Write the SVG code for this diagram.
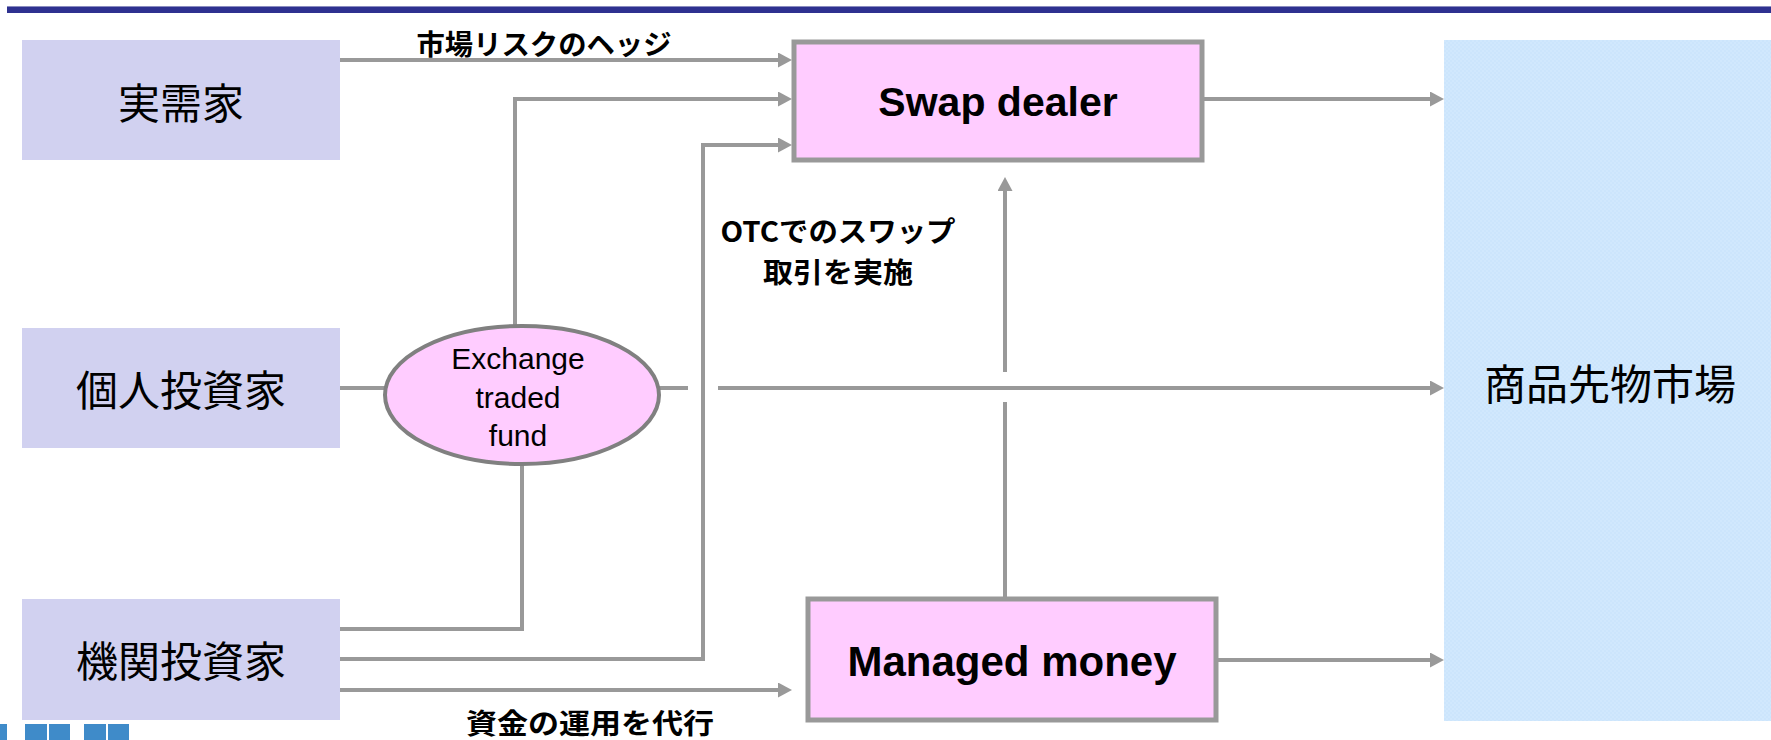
<svg xmlns="http://www.w3.org/2000/svg" width="1771" height="740" viewBox="0 0 1771 740">
<style>
.src{fill:#D1D1F0}
.pink{fill:#FFCCFF}
.conn{fill:none;stroke:#999999;stroke-width:4}
.jp{font-family:"Noto Sans CJK JP","Noto Sans CJK SC",sans-serif;fill:#000}
.lbl{font-family:"Noto Sans CJK JP","Noto Sans CJK SC",sans-serif;font-weight:bold;font-size:28px;fill:#000}
.en{font-family:"Liberation Sans",Arial,sans-serif;fill:#000}
</style>
<defs>
<marker id="arr" viewBox="0 0 14 15" refX="0" refY="7.5" markerWidth="14" markerHeight="15" markerUnits="userSpaceOnUse" orient="auto">
<path d="M0,0 L14,7.5 L0,15 Z" fill="#999999"/>
</marker>
<pattern id="mk" width="4" height="4" patternUnits="userSpaceOnUse">
<rect width="4" height="4" fill="#CCE5FC"/>
<rect width="2" height="2" fill="#D1E8FD"/>
<rect x="2" y="2" width="2" height="2" fill="#D1E8FD"/>
</pattern>
</defs>
<rect width="1771" height="740" fill="#FFFFFF"/>
<rect x="7" y="6" width="1764" height="7" fill="#2E3190"/>
<rect x="7" y="6" width="1764" height="1" fill="#8A8CC0"/>
<g id="deco">
<rect x="0" y="724" width="7" height="16" fill="#3F8BC9"/>
<rect x="25" y="724" width="22" height="16" fill="#3F8BC9"/>
<rect x="49" y="724" width="21" height="16" fill="#3F8BC9"/>
<rect x="84" y="724" width="22" height="16" fill="#3F8BC9"/>
<rect x="108" y="724" width="21" height="16" fill="#3F8BC9"/>
</g>
<g id="market">
<rect x="1444" y="40" width="327" height="681" fill="url(#mk)"/>
<text class="jp" x="1610" y="400" font-size="42" text-anchor="middle">商品先物市場</text>
</g>
<g id="connectors">
<path class="conn" d="M340,60 H778" marker-end="url(#arr)"/>
<path class="conn" d="M515,326 V99 H778" marker-end="url(#arr)"/>
<path class="conn" d="M340,659 H703 V145 H778" marker-end="url(#arr)"/>
<path class="conn" d="M340,629 H522 V464"/>
<path class="conn" d="M340,690 H778" marker-end="url(#arr)"/>
<path class="conn" d="M340,388 H386"/>
<path class="conn" d="M658,388 H688"/>
<path class="conn" d="M718,388 H1430" marker-end="url(#arr)"/>
<path class="conn" d="M1005,597 V402"/>
<path class="conn" d="M1005,372 V191" marker-end="url(#arr)"/>
<path class="conn" d="M1204,99 H1430" marker-end="url(#arr)"/>
<path class="conn" d="M1218,660 H1430" marker-end="url(#arr)"/>
</g>
<g id="labels">
<text class="lbl" x="544" y="55" text-anchor="middle" textLength="255" lengthAdjust="spacingAndGlyphs">市場リスクのヘッジ</text>
<text class="lbl" x="838" y="242" text-anchor="middle" textLength="235" lengthAdjust="spacingAndGlyphs">OTCでのスワップ</text>
<text class="lbl" x="838" y="283" text-anchor="middle" textLength="150" lengthAdjust="spacingAndGlyphs">取引を実施</text>
<text class="lbl" x="590" y="734" text-anchor="middle" textLength="248" lengthAdjust="spacingAndGlyphs">資金の運用を代行</text>
</g>
<g id="jitsujuka">
<rect class="src" x="22" y="40" width="318" height="120"/>
<text class="jp" x="181" y="119" font-size="42" text-anchor="middle">実需家</text>
</g>
<g id="kojin">
<rect class="src" x="22" y="328" width="318" height="120"/>
<text class="jp" x="181" y="406" font-size="42" text-anchor="middle">個人投資家</text>
</g>
<g id="kikan">
<rect class="src" x="22" y="599" width="318" height="121"/>
<text class="jp" x="181" y="677" font-size="42" text-anchor="middle">機関投資家</text>
</g>
<g id="etf">
<ellipse class="pink" cx="522" cy="395" rx="137" ry="69" stroke="#808080" stroke-width="4"/>
<text class="en" x="518" y="369" font-size="30" text-anchor="middle">Exchange</text>
<text class="en" x="518" y="408" font-size="30" text-anchor="middle">traded</text>
<text class="en" x="518" y="446" font-size="30" text-anchor="middle">fund</text>
</g>
<g id="swap">
<rect class="pink" x="794" y="42" width="408" height="118" stroke="#999999" stroke-width="5"/>
<text class="en" x="998" y="116" font-size="41" font-weight="bold" text-anchor="middle">Swap dealer</text>
</g>
<g id="managed">
<rect class="pink" x="808" y="599" width="408" height="121" stroke="#999999" stroke-width="5"/>
<text class="en" x="1012" y="676" font-size="42" font-weight="bold" text-anchor="middle">Managed money</text>
</g>
</svg>
